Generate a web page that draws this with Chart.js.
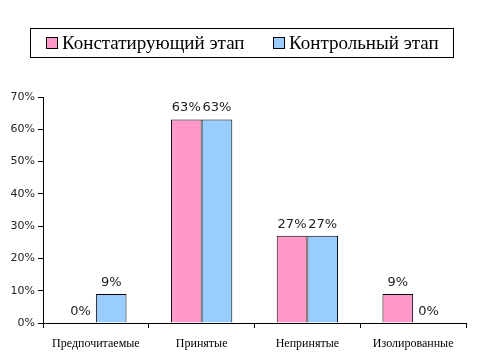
<!DOCTYPE html>
<html>
<head>
<meta charset="utf-8">
<script src="https://cdn.jsdelivr.net/npm/chart.js@4/dist/chart.umd.min.js"></script>
<style>
html, body { margin: 0; padding: 0; background: #fff; }
#wrap { width: 479px; height: 359px; }
</style>
</head>
<body>
<div id="wrap"><canvas id="chart"></canvas></div>
<script>
const categories = ["Предпочитаемые", "Принятые", "Непринятые", "Изолированные"];
const seriesNames = ["Констатирующий этап", "Контрольный этап"];
const stage1 = [0, 63, 27, 9];
const stage2 = [9, 63, 27, 0];
const colors = ["#FF99CC", "#99CCFF"];

// boxed legend on top, like the original
const boxLegend = {
    id: 'boxLegend',
    afterDraw(chart) {
        const ctx = chart.ctx;
        ctx.save();
        ctx.strokeStyle = '#000';
        ctx.lineWidth = 1;
        ctx.strokeRect(30.5, 28.5, 423, 29);
        ctx.font = '19px "Liberation Serif", serif';
        ctx.textBaseline = 'middle';
        const xs = [46, 273];
        chart.data.datasets.forEach((ds, i) => {
            ctx.fillStyle = ds.backgroundColor;
            ctx.fillRect(xs[i] + 0.5, 37.5, 11, 11);
            ctx.strokeRect(xs[i] + 0.5, 37.5, 11, 11);
            ctx.fillStyle = '#000';
            ctx.fillText(ds.label, xs[i] + 16, 44);
        });
        ctx.restore();
    }
};

const valueLabels = {
    id: 'valueLabels',
    afterDatasetsDraw(chart) {
        const ctx = chart.ctx;
        ctx.save();
        ctx.font = '13px "DejaVu Sans", sans-serif';
        ctx.fillStyle = '#222';
        ctx.textAlign = 'center';
        ctx.textBaseline = 'bottom';
        chart.data.datasets.forEach((ds, i) => {
            chart.getDatasetMeta(i).data.forEach((bar, j) => {
                ctx.fillText(ds.data[j] + '%', bar.x, bar.y - 5);
            });
        });
        ctx.restore();
    }
};

new Chart(document.getElementById('chart'), {
    type: 'bar',
    data: {
        labels: categories,
        datasets: [
            { label: seriesNames[0], data: stage1, backgroundColor: colors[0] },
            { label: seriesNames[1], data: stage2, backgroundColor: colors[1] }
        ].map(d => Object.assign(d, {
            borderColor: '#000',
            borderWidth: 1,
            borderSkipped: 'bottom',
            categoryPercentage: 0.58,
            barPercentage: 1
        }))
    },
    options: {
        responsive: true,
        maintainAspectRatio: false,
        animation: false,
        layout: { padding: { top: 97, right: 13, left: 0, bottom: 0 } },
        plugins: {
            legend: { display: false },
            tooltip: { enabled: false }
        },
        scales: {
            y: {
                min: 0,
                max: 70,
                ticks: {
                    stepSize: 10,
                    callback: v => v + '%',
                    font: { family: '"DejaVu Sans", sans-serif', size: 11 },
                    color: '#222',
                    padding: 3
                },
                grid: { drawOnChartArea: false, drawTicks: true, tickLength: 5, color: '#000' },
                border: { color: '#000' },
                afterFit: s => { s.width = 43; }
            },
            x: {
                ticks: {
                    font: { family: '"Liberation Serif", serif', size: 12 },
                    color: '#000',
                    padding: 9
                },
                grid: { drawOnChartArea: false, drawTicks: true, tickLength: 5, color: '#000', offset: true },
                border: { color: '#000' },
                afterFit: s => { s.height = 36; }
            }
        }
    },
    plugins: [boxLegend, valueLabels]
});
</script>
</body>
</html>
